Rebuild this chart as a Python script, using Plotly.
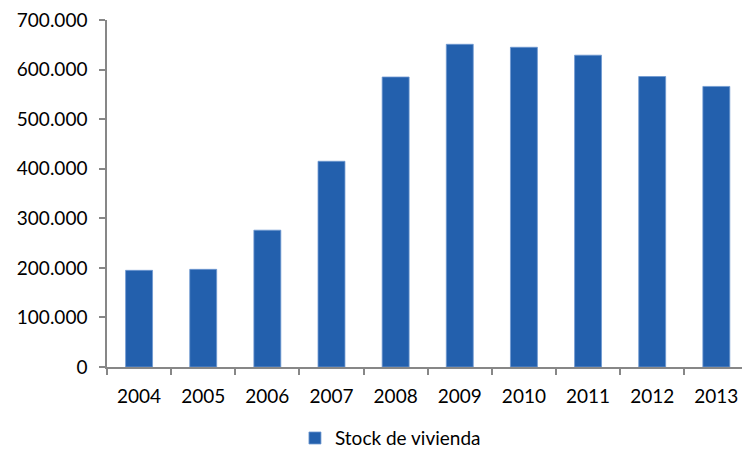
import plotly.graph_objects as go

# Unsold new-housing stock by year
years = ["2004", "2005", "2006", "2007", "2008", "2009", "2010", "2011", "2012", "2013"]
stock = [195000, 197000, 276000, 415000, 585000, 651000, 645000, 629000, 586000, 566000]

y_ticks = [0, 100000, 200000, 300000, 400000, 500000, 600000, 700000]
y_tick_labels = ["0", "100.000", "200.000", "300.000", "400.000", "500.000", "600.000", "700.000"]

bar_color = "#2360AD"
axis_color = "#878787"
font_family = "Lato, 'Open Sans', sans-serif"

fig = go.Figure()
fig.add_trace(go.Bar(
    x=years,
    y=stock,
    name="Stock de vivienda",
    width=0.42,
    marker=dict(color=bar_color, line=dict(color="#6F98D0", width=0.8)),
))

fig.update_layout(
    width=742,
    height=454,
    margin=dict(l=106.5, r=0, t=20, b=87, autoexpand=False),
    paper_bgcolor="white",
    plot_bgcolor="white",
    font=dict(family=font_family, size=19, color="#000000"),
    showlegend=True,
    legend=dict(
        orientation="h",
        x=0.296, xanchor="left",
        y=-0.205, yanchor="middle",
        font=dict(size=19),
        itemwidth=30,
    ),
    xaxis=dict(
        type="category",
        range=[-0.5, 9.4],
        automargin=False,
        showline=True, linecolor=axis_color, linewidth=1.5,
        ticks="outside", tickson="boundaries", ticklen=6, tickcolor=axis_color, tickwidth=1.5,
        showgrid=False, zeroline=False,
        tickfont=dict(size=19),
        ticklabelstandoff=11,
    ),
    yaxis=dict(
        range=[0, 700000],
        automargin=False,
        tickvals=y_ticks, ticktext=y_tick_labels,
        showline=True, linecolor=axis_color, linewidth=1.5,
        ticks="outside", ticklen=6, tickcolor=axis_color, tickwidth=1.5,
        showgrid=False, zeroline=False,
        tickfont=dict(size=19),
        ticklabelstandoff=8,
    ),
)

fig.write_html("out.html")
